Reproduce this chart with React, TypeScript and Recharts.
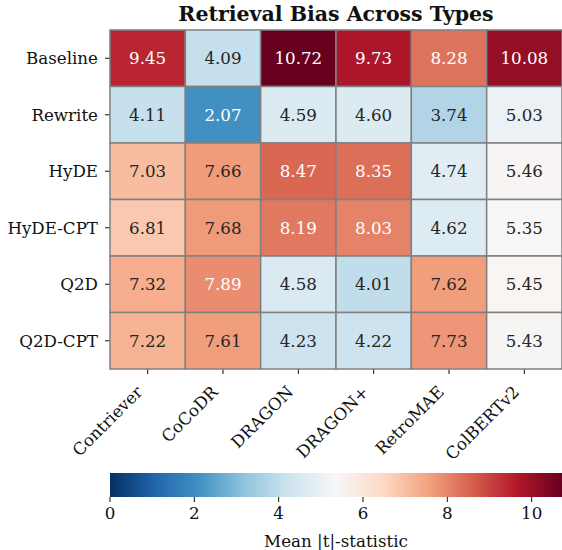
import React from "react";
import {
  ScatterChart,
  Scatter,
  XAxis,
  YAxis,
  BarChart,
  Bar,
} from "recharts";

const ROWS = ["Baseline", "Rewrite", "HyDE", "HyDE-CPT", "Q2D", "Q2D-CPT"];
const COLS = ["Contriever", "CoCoDR", "DRAGON", "DRAGON+", "RetroMAE", "ColBERTv2"];

const BASELINE = [9.45, 4.09, 10.72, 9.73, 8.28, 10.08];
const REWRITE = [4.11, 2.07, 4.59, 4.6, 3.74, 5.03];
const HYDE = [7.03, 7.66, 8.47, 8.35, 4.74, 5.46];
const HYDE_CPT = [6.81, 7.68, 8.19, 8.03, 4.62, 5.35];
const Q2D = [7.32, 7.89, 4.58, 4.01, 7.62, 5.45];
const Q2D_CPT = [7.22, 7.61, 4.23, 4.22, 7.73, 5.43];

const VMIN = 0;
const VMAX = 10.72;
const CBAR_TICKS = [0, 2, 4, 6, 8, 10];

// RdBu_r anchors (ColorBrewer 11)
const RDBU_R = [
  "#053061", "#2166ac", "#4393c3", "#92c5de", "#d1e5f0", "#f7f7f7",
  "#fddbc7", "#f4a582", "#d6604d", "#b2182b", "#67001f",
];

const FONT = "'DejaVu Serif', serif";
const FS = 16.7;
const W = 562;
const MAIN_H = 475;
const CBAR_TOP = 450;
const PLOT_LEFT = 110;
const PLOT_TOP = 30;
const PLOT_BOTTOM = 369;
const CELL_W = (W - PLOT_LEFT) / COLS.length;
const CELL_H = (PLOT_BOTTOM - PLOT_TOP) / ROWS.length;

const hexToRgb = (h: string) => [
  parseInt(h.slice(1, 3), 16),
  parseInt(h.slice(3, 5), 16),
  parseInt(h.slice(5, 7), 16),
];

function colorOf(v: number) {
  const t = Math.min(1, Math.max(0, (v - VMIN) / (VMAX - VMIN))) * (RDBU_R.length - 1);
  const i = Math.min(RDBU_R.length - 2, Math.floor(t));
  const f = t - i;
  const a = hexToRgb(RDBU_R[i]);
  const b = hexToRgb(RDBU_R[i + 1]);
  return a.map((c, k) => Math.round(c + (b[k] - c) * f));
}

// seaborn style: light text on dark cells
function textColor(rgb: number[]) {
  const lin = rgb.map((c) => {
    const x = c / 255;
    return x <= 0.03928 ? x / 12.92 : Math.pow((x + 0.055) / 1.055, 2.4);
  });
  const lum = 0.2126 * lin[0] + 0.7152 * lin[1] + 0.0722 * lin[2];
  return lum > 0.408 ? "#262626" : "#ffffff";
}

const cells = [BASELINE, REWRITE, HYDE, HYDE_CPT, Q2D, Q2D_CPT].flatMap((row, r) =>
  row.map((value, c) => ({ x: c + 0.5, y: r + 0.5, value }))
);

const cbarData = [{ name: "cbar", v: VMAX }];

const HeatCell = (props: any) => {
  const { cx, cy, payload } = props;
  const rgb = colorOf(payload.value);
  return (
    <g>
      <rect
        x={cx - CELL_W / 2}
        y={cy - CELL_H / 2}
        width={CELL_W}
        height={CELL_H}
        fill={`rgb(${rgb.join(",")})`}
        stroke="#808080"
        strokeWidth={1.5}
      />
      <text
        x={cx}
        y={cy}
        dy="0.36em"
        textAnchor="middle"
        fontSize={FS}
        fontFamily={FONT}
        fill={textColor(rgb)}
      >
        {payload.value.toFixed(2)}
      </text>
    </g>
  );
};

const XTick = (props: any) => {
  const { x, y, payload } = props;
  const ax = x - 4;
  const ay = y + 17;
  return (
    <text
      x={ax}
      y={ay}
      transform={`rotate(-45 ${ax} ${ay})`}
      textAnchor="end"
      fontSize={FS}
      fontFamily={FONT}
      fill="#111"
    >
      {COLS[Math.floor(payload.value)]}
    </text>
  );
};

export default function App() {
  return (
    <div style={{ position: "relative", width: W, height: 550, fontFamily: FONT, background: "#fff" }}>
      <style>{`body{margin:0}`}</style>
      <div style={{ position: "absolute", left: 0, top: CBAR_TOP }}>
        <BarChart
          width={W}
          height={550 - CBAR_TOP}
          layout="vertical"
          data={cbarData}
          barCategoryGap={0}
          margin={{ top: 23, right: 0, bottom: 0, left: PLOT_LEFT }}
        >
          <defs>
            <linearGradient id="cbar" x1="0" y1="0" x2="1" y2="0">
              {RDBU_R.map((c, i) => (
                <stop key={i} offset={i / (RDBU_R.length - 1)} stopColor={c} />
              ))}
            </linearGradient>
          </defs>
          <XAxis
            type="number"
            dataKey="v"
            domain={[VMIN, VMAX]}
            ticks={CBAR_TICKS}
            interval={0}
            axisLine={false}
            tickSize={5}
            tickMargin={5}
            tickLine={{ stroke: "#111" }}
            height={53}
            tick={{ fontSize: FS, fill: "#111", fontFamily: FONT }}
            label={{
              value: "Mean |t|-statistic",
              position: "insideBottom",
              offset: 3,
              fontSize: FS,
              fill: "#111",
              fontFamily: FONT,
            }}
          />
          <YAxis type="category" dataKey="name" hide />
          <Bar dataKey="v" fill="url(#cbar)" isAnimationActive={false} />
        </BarChart>
      </div>
      <div
        style={{
          position: "absolute",
          left: PLOT_LEFT,
          width: W - PLOT_LEFT,
          top: 2,
          textAlign: "center",
          fontWeight: "bold",
          fontSize: 20.5,
          lineHeight: "24px",
          color: "#111",
        }}
      >
        Retrieval Bias Across Types
      </div>
      <div style={{ position: "absolute", left: 0, top: 0, pointerEvents: "none" }}>
        <ScatterChart
          width={W}
          height={MAIN_H}
          margin={{ top: PLOT_TOP, right: 0, bottom: 0, left: 0 }}
        >
          <XAxis
            type="number"
            dataKey="x"
            domain={[0, 6]}
            ticks={[0.5, 1.5, 2.5, 3.5, 4.5, 5.5]}
            interval={0}
            axisLine={false}
            tickSize={5}
            tickLine={{ stroke: "#111" }}
            height={MAIN_H - PLOT_BOTTOM}
            tick={<XTick />}
          />
          <YAxis
            type="number"
            dataKey="y"
            domain={[0, 6]}
            reversed
            ticks={[0.5, 1.5, 2.5, 3.5, 4.5, 5.5]}
            interval={0}
            axisLine={false}
            tickSize={5}
            tickMargin={7}
            tickLine={{ stroke: "#111" }}
            width={PLOT_LEFT}
            tickFormatter={(v: number) => ROWS[Math.floor(v)]}
            tick={{ fontSize: FS, fill: "#111", fontFamily: FONT }}
          />
          <Scatter data={cells} shape={<HeatCell />} isAnimationActive={false} />
        </ScatterChart>
      </div>
    </div>
  );
}
